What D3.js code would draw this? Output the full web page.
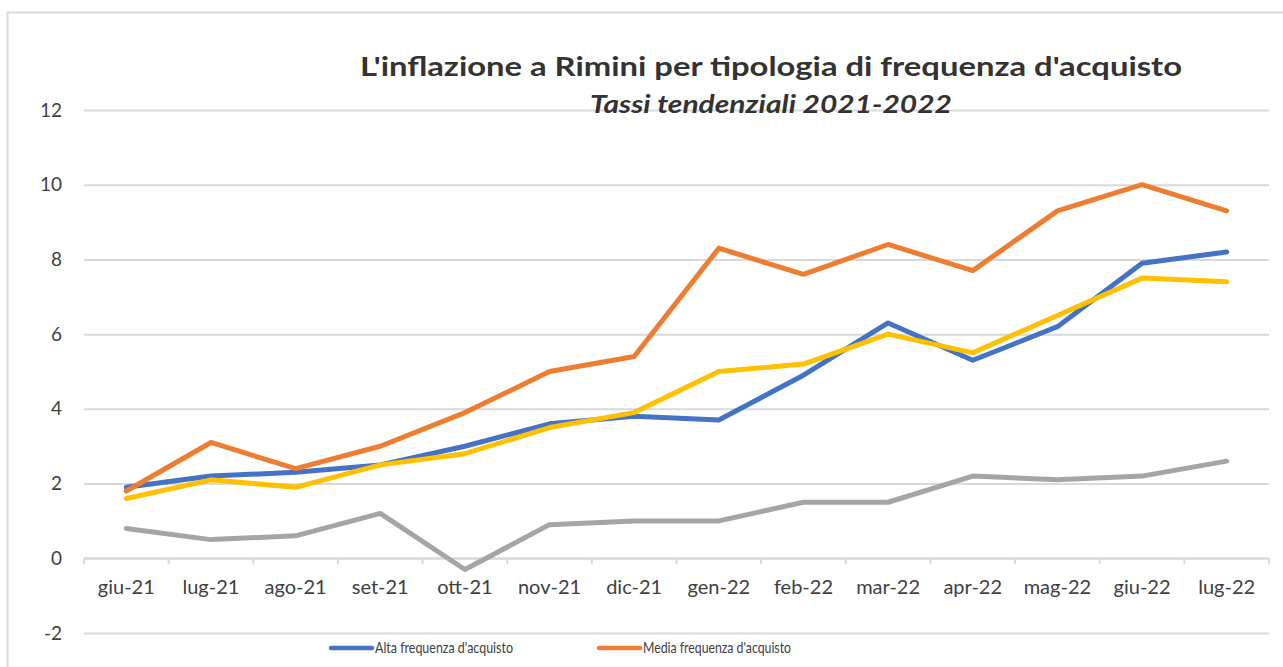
<!DOCTYPE html>
<html>
<head>
<meta charset="utf-8">
<script src="https://cdn.jsdelivr.net/npm/d3@7"></script>
<style>
  body { margin: 0; background: #fff; overflow: hidden; }
  svg { display: block; font-family: Lato, "Open Sans", sans-serif; }
</style>
</head>
<body>
<div id="container"></div>
<script>
// DATA
const months = ["giu-21", "lug-21", "ago-21", "set-21", "ott-21", "nov-21", "dic-21",
  "gen-22", "feb-22", "mar-22", "apr-22", "mag-22", "giu-22", "lug-22"];
const alta = [1.9, 2.2, 2.3, 2.5, 3.0, 3.6, 3.8, 3.7, 4.9, 6.3, 5.3, 6.2, 7.9, 8.2];
const media = [1.8, 3.1, 2.4, 3.0, 3.9, 5.0, 5.4, 8.3, 7.6, 8.4, 7.7, 9.3, 10.0, 9.3];
const bassa = [0.8, 0.5, 0.6, 1.2, -0.3, 0.9, 1.0, 1.0, 1.5, 1.5, 2.2, 2.1, 2.2, 2.6];
const generale = [1.6, 2.1, 1.9, 2.5, 2.8, 3.5, 3.9, 5.0, 5.2, 6.0, 5.5, 6.5, 7.5, 7.4];
const seriesNames = ["Alta frequenza d'acquisto", "Media frequenza d'acquisto",
  "Bassa frequenza d'acquisto", "Indice generale"];
const yTicks = [-2, 0, 2, 4, 6, 8, 10, 12];

const series = [
  { name: seriesNames[0], values: alta, color: "#4472C4" },
  { name: seriesNames[1], values: media, color: "#ED7D31" },
  { name: seriesNames[2], values: bassa, color: "#A5A5A5" },
  { name: seriesNames[3], values: generale, color: "#FFC000" }
];

const W = 1283, H = 667;
const plot = { left: 84, right: 1269, top: 110, bottom: 633 };

const svg = d3.select("#container").append("svg")
  .attr("width", W).attr("height", H);

// outer chart border
svg.append("rect")
  .attr("x", 7.5).attr("y", 12.5)
  .attr("width", 1300).attr("height", 700)
  .attr("fill", "none").attr("stroke", "#d9d9d9").attr("stroke-width", 2);

// SCALES
const x = d3.scaleBand().domain(months).range([plot.left, plot.right]).padding(0);
const y = d3.scaleLinear().domain([-2, 12]).range([plot.bottom, plot.top]);

// gridlines + y labels
const yAxis = svg.append("g")
  .attr("transform", `translate(${plot.left},0)`)
  .call(d3.axisLeft(y).tickValues(yTicks).tickSize(-(plot.right - plot.left)).tickPadding(22).tickFormat(d => String(d)));
yAxis.select(".domain").remove();
yAxis.selectAll(".tick line").attr("stroke", "#d9d9d9").attr("stroke-width", 2);
yAxis.selectAll(".tick text")
  .attr("fill", "#404040").style("font-size", "19px")
  .style("font-family", "Lato, sans-serif");

// x axis at zero
const x0 = y(0);
svg.append("line")
  .attr("x1", plot.left).attr("x2", plot.right)
  .attr("y1", x0).attr("y2", x0)
  .attr("stroke", "#d9d9d9").attr("stroke-width", 2);
const bounds = months.map(m => x(m)).concat([plot.right]);
svg.selectAll(".xtick").data(bounds).enter().append("line")
  .attr("class", "xtick")
  .attr("x1", d => d).attr("x2", d => d)
  .attr("y1", x0).attr("y2", x0 + 6)
  .attr("stroke", "#d9d9d9").attr("stroke-width", 2);
svg.selectAll(".xlab").data(months).enter().append("text")
  .attr("class", "xlab")
  .attr("x", d => x(d) + x.bandwidth() / 2)
  .attr("y", x0 + 36)
  .attr("text-anchor", "middle")
  .attr("fill", "#404040").style("font-size", "20px")
  .text(d => d);

// LINES
const line = d3.line()
  .x((d, i) => x(months[i]) + x.bandwidth() / 2)
  .y(d => y(d));

svg.selectAll(".series").data(series).enter().append("path")
  .attr("class", "series")
  .attr("d", d => line(d.values))
  .attr("fill", "none")
  .attr("stroke", d => d.color)
  .attr("stroke-width", 5)
  .attr("stroke-linejoin", "round")
  .attr("stroke-linecap", "round");

// TITLE
svg.append("text")
  .attr("x", 771).attr("y", 76)
  .attr("text-anchor", "middle")
  .attr("fill", "#333")
  .style("font-size", "27px").style("font-weight", "bold")
  .attr("textLength", 822).attr("lengthAdjust", "spacingAndGlyphs")
  .text("L'inflazione a Rimini per tipologia di frequenza d'acquisto");
svg.append("text")
  .attr("x", 771).attr("y", 113)
  .attr("text-anchor", "middle")
  .attr("fill", "#333")
  .style("font-size", "25px").style("font-style", "italic").style("font-weight", "bold")
  .attr("textLength", 362).attr("lengthAdjust", "spacingAndGlyphs")
  .text("Tassi tendenziali 2021-2022");

// LEGEND (only the first row is visible in the frame)
const legendPos = [[331, 648], [599, 648]];
const legendLen = [138, 148];
const legend = svg.selectAll(".legend").data(series.slice(0, 2)).enter().append("g")
  .attr("class", "legend")
  .attr("transform", (d, i) => `translate(${legendPos[i][0]},${legendPos[i][1]})`);
legend.append("line")
  .attr("x1", 0).attr("x2", 41)
  .attr("stroke", d => d.color).attr("stroke-width", 4.5).attr("stroke-linecap", "round");
legend.append("text")
  .attr("x", 44).attr("y", 5)
  .attr("fill", "#404040").style("font-size", "15px")
  .attr("textLength", (d, i) => legendLen[i]).attr("lengthAdjust", "spacingAndGlyphs")
  .text(d => d.name);
</script>
</body>
</html>
